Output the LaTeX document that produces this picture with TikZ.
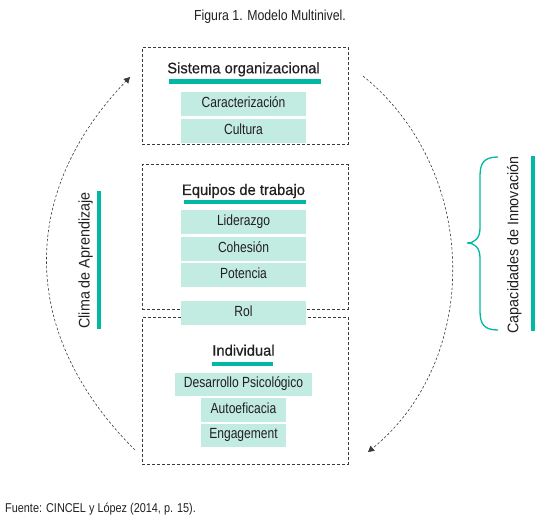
\documentclass[tikz,border=0pt]{standalone}
\usepackage{fontspec}
\setmainfont{Liberation Sans}
\newfontfamily\headfont[FakeBold=0.5,FakeStretch=0.97]{Liberation Sans}
\newfontfamily\itemfont[FakeStretch=0.82]{Liberation Sans}
\newfontfamily\labelfont[FakeStretch=0.93]{Liberation Sans}
\newfontfamily\notefont[FakeStretch=0.85]{Liberation Sans}
\usetikzlibrary{arrows.meta}

\definecolor{verde}{RGB}{0,184,163}
\definecolor{verdeclaro}{RGB}{194,235,226}
\definecolor{gris}{RGB}{58,58,58}
\definecolor{texto}{RGB}{35,31,32}

\newcommand*{\cx}{243.5}
\newcommand*{\bx}{245.3}

\begin{document}
\begin{tikzpicture}
[
	x=1pt,
	y=-1pt,
	nivel/.style={draw=gris,line width=0.8pt,dash pattern=on 3pt off 2pt,minimum width=206pt,inner sep=0pt},
	item/.style={fill=verdeclaro,inner sep=0pt,minimum width=125pt,minimum height=23.7pt,text height=10.5pt,text depth=3.3pt,text=texto,font=\itemfont\fontsize{14.7}{16}\selectfont},
	titulo/.style={anchor=base,inner sep=0pt,text=texto,font=\headfont\fontsize{15.2}{17}\selectfont},
	etiqueta/.style={anchor=base,inner sep=0pt,rotate=90,text=texto,font=\labelfont\fontsize{15.4}{17}\selectfont},
	nota/.style={inner sep=0pt,text=texto,font=\notefont},
	barra/.style={fill=verde},
	ciclo/.style={draw=gris,line width=0.6pt,dash pattern=on 2.5pt off 2pt,-{Triangle[length=6pt,width=6.5pt]}}
]

	\useasboundingbox (0,0) rectangle (540,518);

	\node[nota,anchor=base,font=\notefont\fontsize{14.5}{16}\selectfont] (figura) at (270,21) {Figura 1. Modelo Multinivel.};

	% niveles
	\node[nivel,minimum height=96.7pt] (sistema) at (\bx,95.7) {};
	\node[nivel,minimum height=144.3pt] (equipos) at (\bx,236.8) {};
	\node[nivel,minimum height=146.7pt] (individual) at (\bx,390.7) {};

	\node[titulo] (tsistema) at (\cx,73.3) {Sistema organizacional};
	\fill[barra] (169,79.5) rectangle (321,83.7);
	\node[item] (caracterizacion) at (\cx,103.9) {Caracterización};
	\node[item] (cultura) at (\cx,130.9) {Cultura};

	\node[titulo] (tequipos) at (\cx,195) {Equipos de trabajo};
	\fill[barra] (184,200.2) rectangle (305.7,204.2);
	\node[item] (liderazgo) at (\cx,222.3) {Liderazgo};
	\node[item] (cohesion) at (\cx,248.8) {Cohesión};
	\node[item] (potencia) at (\cx,275.3) {Potencia};
	\node[item] (rol) at (\cx,313.3) {Rol};

	\node[titulo] (tindividual) at (\cx,355.7) {Individual};
	\fill[barra] (212,362) rectangle (273,365.7);
	\node[item,minimum width=137pt,minimum height=23pt] (desarrollo) at (\cx,384.2) {Desarrollo Psicológico};
	\node[item,minimum width=85pt] (autoeficacia) at (\cx,409.8) {Autoeficacia};
	\node[item,minimum width=85pt,minimum height=22.7pt] (engagement) at (\cx,435.3) {Engagement};

	% ciclo izquierdo
	\coordinate (izqA) at (135,450);
	\coordinate (izqB) at (130,77);
	\draw[ciclo] (izqA) .. controls (18.5,334) and (18.5,193) .. (izqB);
	\node[etiqueta] (clima) at (89.6,260.5) {Clima de Aprendizaje};
	\fill[barra] (97.3,191) rectangle (101,329);

	% ciclo derecho
	\coordinate (derA) at (363,76);
	\coordinate (derB) at (368,452);
	\draw[ciclo] (derA) .. controls (481,172) and (481,360) .. (derB);
	\draw[verde,line width=1.3pt] (498,157) .. controls (484,157) and (480,163) .. (480,176)
		-- (480,228) .. controls (480,238) and (475,243) .. (467,243)
		.. controls (475,243) and (480,248) .. (480,258)
		-- (480,311) .. controls (480,324) and (484,330) .. (498,330);
	\node[etiqueta] (capacidades) at (518.3,245) {Capacidades de Innovación};
	\fill[barra] (531,156) rectangle (535,330.7);

	\node[nota,anchor=base west,font=\notefont\fontsize{12.8}{14}\selectfont] (fuente) at (5,512.5) {Fuente: CINCEL y López (2014, p. 15).};

\end{tikzpicture}
\end{document}
